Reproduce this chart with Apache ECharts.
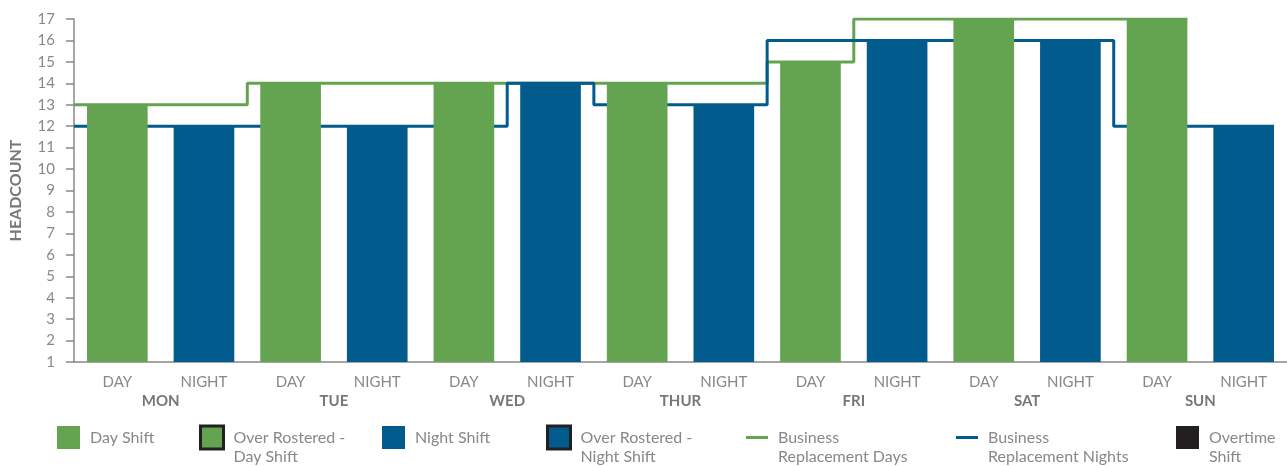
<!DOCTYPE html>
<html>
<head>
<meta charset="utf-8">
<script src="https://cdn.jsdelivr.net/npm/echarts@6/dist/echarts.min.js"></script>
<style>
  html, body { margin: 0; padding: 0; background: #fff; }
  #chart { width: 1287px; height: 466px; }
</style>
</head>
<body>
<div id="chart"></div>
<script>
// roster data
var days = ['MON', 'TUE', 'WED', 'THUR', 'FRI', 'SAT', 'SUN'];
var shifts = ['DAY', 'NIGHT'];
var dayShift = [13, 14, 14, 14, 15, 17, 17];
var nightShift = [12, 12, 14, 13, 16, 16, 12];
// business replacement, one value per shift slot
var replacementDays = [13, 13, 14, 14, 14, 14, 14, 14, 15, 17, 17, 17, 17, null];
var replacementNights = [12, 12, 12, 12, 12, 14, 13, 13, 16, 16, 16, 16, 12, 12];
var yTicks = [1, 17];

var GREEN = '#64a450';
var BLUE = '#025b8d';
var DARK = '#231f20';
var GREY = '#888888';
var FONT = 'Lato';

// 14 slots: MON-DAY, MON-NIGHT, ...
var slots = [];
days.forEach(function (d) {
    shifts.forEach(function (s) { slots.push(d + '-' + s); });
});
var daySeries = [], nightSeries = [];
for (var i = 0; i < days.length; i++) {
    daySeries.push(dayShift[i], null);
    nightSeries.push(null, nightShift[i]);
}

// step line points, ending at the right edge of the last bar
function stepPoints(arr) {
    var pts = [], last = 0;
    arr.forEach(function (v, i) {
        if (v != null) { pts.push([i, v]); last = i; }
    });
    pts.push([last + 0.85, arr[last]]);
    return pts;
}

var legendItems = [
    { name: 'Day Shift', lines: ['Day Shift'], left: 57, icon: 'box', style: { color: GREEN, opacity: 1 } },
    { name: 'Over Rostered - Day Shift', lines: ['Over Rostered -', 'Day Shift'], left: 199, icon: 'box', style: { color: GREEN, borderColor: DARK, borderWidth: 3, opacity: 1 } },
    { name: 'Night Shift', lines: ['Night Shift'], left: 382, icon: 'box', style: { color: BLUE, opacity: 1 } },
    { name: 'Over Rostered - Night Shift', lines: ['Over Rostered -', 'Night Shift'], left: 546, icon: 'box', style: { color: BLUE, borderColor: DARK, borderWidth: 3, opacity: 1 } },
    { name: 'Business Replacement Days', lines: ['Business', 'Replacement Days'], left: 746, icon: 'line', style: { color: GREEN, opacity: 1 } },
    { name: 'Business Replacement Nights', lines: ['Business', 'Replacement Nights'], left: 956, icon: 'line', style: { color: BLUE, opacity: 1 } },
    { name: 'Overtime Shift', lines: ['Overtime', 'Shift'], left: 1176, icon: 'box', style: { color: DARK, opacity: 1 } }
];

var LH = 19.5, CY = 437.5;
var legends = legendItems.map(function (it) {
    var isLine = it.icon === 'line';
    var h = isLine ? 3 : 23;
    // leading empty line keeps the first text line level with the icon
    var txt = it.lines.map(function (l) { return '{t|' + l + '}'; });
    if (txt.length > 1) txt.unshift('');
    var rows = txt.length;
    var top = CY - Math.max(h, rows * LH) / 2;
    return {
        left: it.left,
        top: top,
        padding: 0,
        selectedMode: false,
        itemWidth: isLine ? 22 : 23,
        itemHeight: h,
        itemGap: 0,
        data: [{ name: it.name, icon: 'rect', itemStyle: it.style }],
        formatter: function () { return txt.join('\n'); },
        textStyle: {
            fontFamily: FONT, fontSize: 16, color: GREY, lineHeight: LH,
            rich: { t: { fontFamily: FONT, fontSize: 16, color: GREY, lineHeight: LH, padding: [0, 0, 0, 5] } }
        }
    };
});

var chart = echarts.init(document.getElementById('chart'));
chart.setOption({
    animation: false,
    backgroundColor: '#fff',
    legend: legends,
    grid: { left: 73, top: 19, bottom: 104, right: -4, containLabel: false },
    xAxis: [{
        type: 'category',
        data: slots,
        axisLine: { lineStyle: { color: GREY, width: 1.5 } },
        axisTick: { length: 8, lineStyle: { color: GREY, width: 1.5 } },
        axisLabel: {
            margin: 13, fontFamily: FONT, fontSize: 15, color: GREY,
            formatter: function (v) { return v.split('-')[1]; }
        }
    }, {
        type: 'category',
        data: days,
        position: 'bottom',
        axisLine: { show: false },
        axisTick: { show: false },
        axisLabel: { margin: 32, fontFamily: FONT, fontSize: 15, fontWeight: 'bold', color: '#777' }
    }, {
        type: 'value',
        min: 0,
        max: slots.length,
        show: false
    }],
    yAxis: {
        type: 'value',
        min: yTicks[0],
        max: yTicks[1],
        interval: 1,
        name: 'HEADCOUNT',
        nameLocation: 'middle',
        nameGap: 50,
        nameTextStyle: { fontFamily: FONT, fontSize: 16, fontWeight: 'bold', color: '#777' },
        splitLine: { show: false },
        axisLine: { show: true, lineStyle: { color: GREY, width: 1.5 } },
        axisTick: { show: true, length: 8, lineStyle: { color: GREY, width: 1.5 } },
        axisLabel: { margin: 19, fontFamily: FONT, fontSize: 15, color: GREY }
    },
    series: [{
        name: 'Business Replacement Days',
        type: 'line',
        xAxisIndex: 2,
        step: 'end',
        symbol: 'none',
        z: 1,
        data: stepPoints(replacementDays),
        lineStyle: { color: GREEN, width: 3 },
        itemStyle: { color: GREEN }
    }, {
        name: 'Business Replacement Nights',
        type: 'line',
        xAxisIndex: 2,
        step: 'end',
        symbol: 'none',
        z: 1,
        data: stepPoints(replacementNights),
        lineStyle: { color: BLUE, width: 3 },
        itemStyle: { color: BLUE }
    }, {
        name: 'Day Shift',
        type: 'bar',
        barWidth: '70%',
        barGap: '-100%',
        z: 3,
        data: daySeries,
        itemStyle: { color: GREEN }
    }, {
        name: 'Night Shift',
        type: 'bar',
        barWidth: '70%',
        barGap: '-100%',
        z: 3,
        data: nightSeries,
        itemStyle: { color: BLUE }
    }, {
        // legend-only entries, no data in this roster
        name: 'Over Rostered - Day Shift', type: 'scatter', data: [],
        itemStyle: { color: GREEN, borderColor: DARK, borderWidth: 3, opacity: 1 }
    }, {
        name: 'Over Rostered - Night Shift', type: 'scatter', data: [],
        itemStyle: { color: BLUE, borderColor: DARK, borderWidth: 3, opacity: 1 }
    }, {
        name: 'Overtime Shift', type: 'scatter', data: [],
        itemStyle: { color: DARK, opacity: 1 }
    }]
});
</script>
</body>
</html>
